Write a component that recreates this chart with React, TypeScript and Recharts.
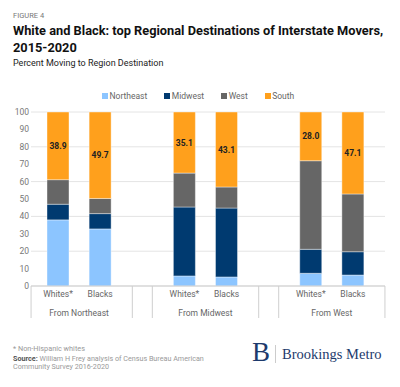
import { BarChart, Bar, XAxis, YAxis, CartesianGrid, Legend, LabelList } from 'recharts';

// one slot per x position; blanks are spacer slots between the origin groups
const categories = ['Whites*', 'Blacks', '', 'Whites*', 'Blacks', '', 'Whites*', 'Blacks'];
const origins = ['From Northeast', '', '', 'From Midwest', '', '', 'From West', ''];
const seriesOrder = ['Northeast', 'Midwest', 'West', 'South'];

const northeast = [38.0, 32.8, null, 5.8, 5.2, null, 7.3, 6.3];
const midwest = [9.0, 8.8, null, 39.6, 39.6, null, 13.8, 13.4];
const west = [14.1, 8.7, null, 19.5, 12.1, null, 50.9, 33.2];
const south = [38.9, 49.7, null, 35.1, 43.1, null, 28.0, 47.1];

const yTicks = [0, 10, 20, 30, 40, 50, 60, 70, 80, 90, 100];

const COLORS = {
  northeast: '#8cc5ff',
  midwest: '#003a70',
  west: '#666666',
  south: '#ffa01c',
};

const data = categories.map((c, i) => ({
  id: String(i),
  Northeast: northeast[i],
  Midwest: midwest[i],
  West: west[i],
  South: south[i],
}));

const SEP = '#cfcfcf';

function CategoryTick(props: any) {
  const { x, y, payload } = props;
  const i = Number(payload.value);
  const label = categories[i];
  const origin = origins[i];
  return (
    <g>
      {label && (
        <text x={x} y={y + 11} textAnchor="middle" fontSize={8.5} fill="#666">
          {label}
        </text>
      )}
      {origin && (
        <text x={x + 21} y={y + 30} textAnchor="middle" fontSize={8.5} fill="#666">
          {origin}
        </text>
      )}
      {/* group separators */}
      {label === '' && (
        <>
          <line x1={x - 10} x2={x - 10} y1={y} y2={y + 32} stroke={SEP} />
          <line x1={x + 10} x2={x + 10} y1={y} y2={y + 32} stroke={SEP} />
        </>
      )}
      {i === 0 && <line x1={x - 27} x2={x - 27} y1={y} y2={y + 32} stroke={SEP} />}
      {i === categories.length - 1 && <line x1={x + 32} x2={x + 32} y1={y} y2={y + 32} stroke={SEP} />}
    </g>
  );
}

function LegendContent(props: any) {
  const items = [...(props.payload || [])].sort(
    (a: any, b: any) => seriesOrder.indexOf(a.value) - seriesOrder.indexOf(b.value)
  );
  return (
    <div style={{ display: 'flex', gap: 17, fontSize: 8.5, color: '#666', lineHeight: '10px' }}>
      {items.map((p: any) => (
        <div key={p.value} style={{ display: 'flex', alignItems: 'center' }}>
          <span style={{ width: 6, height: 6, background: p.color, marginRight: 1.5, display: 'inline-block' }} />
          {p.value}
        </div>
      ))}
    </div>
  );
}

export default function App() {
  return (
    <div
      style={{
        position: 'absolute',
        left: 0,
        top: 0,
        width: 400,
        height: 387,
        background: '#fff',
        fontFamily: 'Roboto, sans-serif',
        overflow: 'hidden',
      }}
    >
      <div style={{ position: 'absolute', left: 13, top: 11, fontSize: 7.5, color: '#777', lineHeight: '10px' }}>
        FIGURE 4
      </div>
      <div
        style={{
          position: 'absolute',
          left: 13,
          top: 22,
          fontSize: 12.8,
          fontWeight: 700,
          color: '#111',
          lineHeight: '17px',
          whiteSpace: 'nowrap',
        }}
      >
        White and Black: top Regional Destinations of Interstate Movers,
        <br />
        2015-2020
      </div>
      <div style={{ position: 'absolute', left: 13, top: 57, fontSize: 9, color: '#222', lineHeight: '12px' }}>
        Percent Moving to Region Destination
      </div>

      <div style={{ position: 'absolute', left: 0, top: 80 }}>
        <BarChart width={400} height={245} data={data} margin={{ top: 22, right: 15, left: 0, bottom: 5 }}>
          <CartesianGrid vertical={false} stroke="#e4e4e4" />
          <XAxis
            dataKey="id"
            interval={0}
            tickLine={false}
            tickSize={0}
            tickMargin={0}
            height={34}
            padding={{ left: 6, right: 11 }}
            axisLine={{ stroke: SEP }}
            tick={<CategoryTick />}
          />
          <YAxis
            domain={[0, 100]}
            ticks={yTicks}
            width={31}
            axisLine={false}
            tickLine={false}
            tickSize={0}
            tickMargin={2}
            tick={{ fontSize: 8.5, fill: '#777' }}
          />
          <Legend
            verticalAlign="top"
            align="left"
            content={<LegendContent />}
            wrapperStyle={{ top: 11, left: 102, width: 'auto' }}
          />
          <Bar dataKey="Northeast" stackId="a" fill={COLORS.northeast} barSize={22} stroke="#fff" strokeWidth={0.4} isAnimationActive={false} />
          <Bar dataKey="Midwest" stackId="a" fill={COLORS.midwest} barSize={22} stroke="#fff" strokeWidth={0.4} isAnimationActive={false} />
          <Bar dataKey="West" stackId="a" fill={COLORS.west} barSize={22} stroke="#fff" strokeWidth={0.4} isAnimationActive={false} />
          <Bar dataKey="South" stackId="a" fill={COLORS.south} barSize={22} stroke="#fff" strokeWidth={0.4} isAnimationActive={false}>
            <LabelList
              dataKey="South"
              position="center"
              formatter={(v: any) => (v == null ? '' : Number(v).toFixed(1))}
              style={{ fontSize: 8.5, fontWeight: 700, fill: '#222' }}
            />
          </Bar>
        </BarChart>
      </div>

      <div style={{ position: 'absolute', left: 13, top: 344, fontSize: 7.3, color: '#999', lineHeight: '9px' }}>
        * Non-Hispanic whites
      </div>
      <div style={{ position: 'absolute', left: 13, top: 354.5, fontSize: 7.2, color: '#999', lineHeight: '8.7px', whiteSpace: 'nowrap' }}>
        <span style={{ fontWeight: 700, color: '#555' }}>Source:</span> William H Frey analysis of Census Bureau American
        <br />
        Community Survey 2016-2020
      </div>

      <div
        style={{
          position: 'absolute',
          left: 252,
          top: 337,
          fontFamily: '"Liberation Serif", serif',
          fontSize: 27,
          color: '#1d3a6c',
          lineHeight: '30px',
        }}
      >
        B
      </div>
      <div style={{ position: 'absolute', left: 275, top: 345, width: 1, height: 18, background: '#ccc' }} />
      <div
        style={{
          position: 'absolute',
          left: 282,
          top: 346,
          fontFamily: '"Liberation Serif", serif',
          fontSize: 14.5,
          color: '#1d3a6c',
          lineHeight: '16px',
          whiteSpace: 'nowrap',
        }}
      >
        Brookings Metro
      </div>
    </div>
  );
}
